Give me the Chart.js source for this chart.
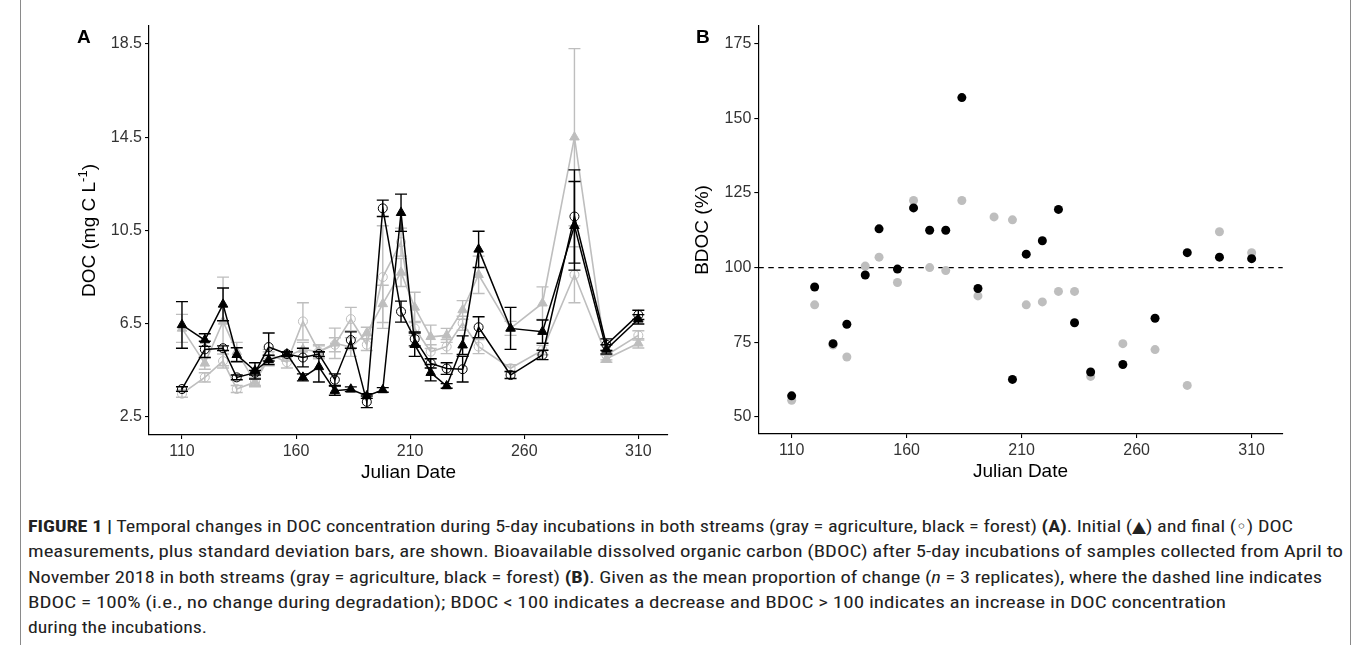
<!DOCTYPE html>
<html><head><meta charset="utf-8">
<script src="https://cdn.jsdelivr.net/npm/chart.js@4.4.0/dist/chart.umd.min.js"></script>
<style>
html,body{margin:0;padding:0;background:#fff;width:1358px;height:645px;overflow:hidden;position:relative;font-family:"Liberation Sans",Arial,sans-serif;}
canvas{position:absolute;top:0;}
#cA{left:0;}
#cB{left:680px;}
.lbl{position:absolute;font-weight:bold;font-size:19px;line-height:19px;color:#000;}
.frame{position:absolute;top:0;height:645px;width:1px;background:#8a8a8a;}
.ln{position:absolute;left:28px;white-space:nowrap;transform-origin:0 50%;height:20px;line-height:20px;font-size:16px;color:#222;font-family:"Liberation Sans Narrow","Roboto Condensed","DejaVu Sans Condensed","Liberation Sans",sans-serif;}
.ln b{font-weight:bold;}
</style></head>
<body>
<div class="frame" style="left:20px"></div>
<div class="frame" style="left:1350px"></div>
<canvas id="cA" width="700" height="500"></canvas>
<canvas id="cB" width="620" height="500"></canvas>
<div class="lbl" style="left:77px;top:27px">A</div>
<div class="lbl" style="left:696px;top:27px">B</div>
<div class="ln" data-w="1265" style="top:517px"><b>FIGURE 1 |</b> Temporal changes in DOC concentration during 5-day incubations in both streams (gray = agriculture, black = forest) <b>(A)</b>. Initial (▲) and final (◦) DOC</div>
<div class="ln" data-w="1315" style="top:542px">measurements, plus standard deviation bars, are shown. Bioavailable dissolved organic carbon (BDOC) after 5-day incubations of samples collected from April to</div>
<div class="ln" data-w="1294" style="top:568px">November 2018 in both streams (gray = agriculture, black = forest) <b>(B)</b>. Given as the mean proportion of change (<i>n</i> = 3 replicates), where the dashed line indicates</div>
<div class="ln" data-w="1198" style="top:593px">BDOC = 100% (i.e., no change during degradation); BDOC &lt; 100 indicates a decrease and BDOC &gt; 100 indicates an increase in DOC concentration</div>
<div class="ln" data-w="179" style="top:618px">during the incubations.</div>
<script>
// ---------- data ----------
const dates = [110,120,128,134,142,148,156,163,170,177,184,191,198,206,212,219,226,233,240,254,268,282,296,310];
const agrInit    = [6.3,4.8,6.6,5.3,4.0,5.0,5.1,5.4,5.3,5.66,5.5,6.1,7.35,8.7,7.2,5.94,6.0,7.09,8.6,6.3,7.38,14.5,5.0,5.66];
const agrInitSD  = [0.6,0.25,1.9,0.4,0.2,0.3,0.2,0.3,0.3,0.65,0.4,0.25,0.8,0.6,0.65,0.5,0.3,0.4,0.8,0.3,0.7,3.8,0.15,0.2];
const agrFinal   = [3.5,4.2,4.9,3.7,4.0,5.2,4.85,6.6,5.3,5.6,6.7,5.6,8.5,10.0,6.3,5.3,5.52,6.52,5.52,4.59,5.37,8.6,5.15,6.0];
const agrFinalSD = [0.15,0.2,0.3,0.15,0.15,0.2,0.25,0.8,0.25,0.3,0.5,0.25,2.2,0.6,0.3,0.3,0.3,0.3,0.3,0.15,0.2,1.2,0.2,0.2];
const forInit    = [6.45,5.8,7.33,5.17,4.48,4.95,5.2,4.2,4.65,3.63,3.69,3.4,3.66,11.26,5.6,4.4,3.83,5.58,9.69,6.3,6.16,10.7,5.4,6.69];
const forInitSD  = [1.0,0.27,0.7,0.3,0.35,0.2,0.1,0.15,0.65,0.2,0.1,0.1,0.1,0.8,0.5,0.35,0.1,0.4,0.78,0.9,0.5,1.9,0.2,0.2];
const forFinal   = [3.7,5.4,5.45,4.2,4.4,5.5,5.2,5.05,5.2,4.1,5.8,3.15,11.45,7.02,5.85,4.8,4.58,4.55,6.35,4.3,5.16,11.1,5.6,6.88];
const forFinalSD = [0.1,0.35,0.1,0.1,0.1,0.6,0.1,0.4,0.1,0.25,0.35,0.25,0.35,0.45,0.3,0.2,0.25,0.55,0.45,0.15,0.2,2.0,0.25,0.2];
const bdocAgr = [55.5,87.5,74,70,100.5,103.5,95,122.5,100,99,122.5,90.5,117,116,87.5,88.5,92,92,63.5,74.5,72.5,60.5,112,105];
const bdocFor = [57,93.5,74.5,81,97.5,113,99.5,120,112.5,112.5,157,93,null,62.5,104.5,109,119.5,81.5,65,67.5,83,105,103.5,103];
const docTicks  = [2.5,6.5,10.5,14.5,18.5];
const dateTicks = [110,160,210,260,310];
const bdocTicks = [50,75,100,125,150,175];
const bdocRef = 100;

const GRAY = '#bebebe', BLACK = '#000000';
const FONT = '"Liberation Sans", Arial, sans-serif';

function pts(ys){ return dates.map((d,i)=>({x:d,y:ys[i]})); }

const errorBars = {
  id:'errorBars',
  beforeDatasetDraw(chart, args){
    const ds = chart.data.datasets[args.index];
    if(!ds.sd) return;
    const xs = chart.scales.x, ys = chart.scales.y, ctx = chart.ctx;
    ctx.save();
    ctx.strokeStyle = ds.borderColor; ctx.lineWidth = 1.4;
    ds.data.forEach((p,i)=>{
      if(p.y==null) return;
      const s = ds.sd[i];
      const px = xs.getPixelForValue(p.x);
      const y1 = ys.getPixelForValue(p.y - s), y2 = ys.getPixelForValue(p.y + s);
      ctx.beginPath();
      ctx.moveTo(px, y1); ctx.lineTo(px, y2);
      ctx.moveTo(px-6, y1); ctx.lineTo(px+6, y1);
      ctx.moveTo(px-6, y2); ctx.lineTo(px+6, y2);
      ctx.stroke();
    });
    ctx.restore();
  }
};

const refLine = {
  id:'refLine',
  beforeDatasetsDraw(chart, args, opts){
    if(opts.value==null) return;
    const ys = chart.scales.y, a = chart.chartArea, ctx = chart.ctx;
    const y = ys.getPixelForValue(opts.value);
    ctx.save();
    ctx.strokeStyle = '#000'; ctx.lineWidth = 1.3; ctx.setLineDash([5.5,4.5]);
    ctx.beginPath(); ctx.moveTo(a.left, y); ctx.lineTo(a.right, y); ctx.stroke();
    ctx.restore();
  }
};

const axisTitles = {
  id:'axisTitles',
  afterDraw(chart, args, o){
    const ctx = chart.ctx, a = chart.chartArea;
    ctx.save();
    ctx.fillStyle = '#000';
    ctx.font = '19px ' + FONT;
    ctx.textAlign = 'center'; ctx.textBaseline = 'middle';
    ctx.fillText(o.xText, (a.left + a.right)/2, a.bottom + o.xOff);
    // y title, rotated, with optional superscript
    ctx.translate(a.left - o.yOff, (a.top + a.bottom)/2);
    ctx.rotate(-Math.PI/2);
    ctx.textAlign = 'left'; ctx.textBaseline = 'middle';
    const parts = o.yParts;
    let total = 0;
    parts.forEach(p=>{ ctx.font = (p.sup?'13px ':'19px ') + FONT; p.w = ctx.measureText(p.t).width; total += p.w; });
    let x = -total/2;
    parts.forEach(p=>{ ctx.font = (p.sup?'13px ':'19px ') + FONT; ctx.fillText(p.t, x, p.sup? -6.5 : 0); x += p.w; });
    ctx.restore();
  }
};

function axisCommon(min, max, tickArr, fmt, fitFn){
  return {
    type:'linear', min:min, max:max,
    afterBuildTicks: s => { s.ticks = tickArr.map(v=>({value:v})); },
    afterFit: fitFn,
    ticks:{ callback: fmt, font:{family:FONT, size:16}, color:'#333', padding:3, maxRotation:0, autoSkip:false },
    grid:{ display:true, drawOnChartArea:false, drawTicks:true, tickLength:4, color:'#000', lineWidth:1.1 },
    border:{ display:true, color:'#000', width:1.2 }
  };
}

Chart.defaults.font.family = FONT;

new Chart(document.getElementById('cA'), {
  type:'line',
  data:{ datasets:[
    { data:pts(forInit), sd:forInitSD, borderColor:BLACK, backgroundColor:BLACK, borderWidth:1.5, pointStyle:'triangle', pointRadius:5.5, pointBorderWidth:1, tension:0 },
    { data:pts(forFinal), sd:forFinalSD, borderColor:BLACK, backgroundColor:'rgba(0,0,0,0)', borderWidth:1.5, pointStyle:'circle', pointRadius:4.5, pointBorderWidth:1, tension:0 },
    { data:pts(agrInit), sd:agrInitSD, borderColor:GRAY, backgroundColor:GRAY, borderWidth:1.6, pointStyle:'triangle', pointRadius:5.5, pointBorderWidth:1, tension:0 },
    { data:pts(agrFinal), sd:agrFinalSD, borderColor:GRAY, backgroundColor:'rgba(0,0,0,0)', borderWidth:1.6, pointStyle:'circle', pointRadius:4.5, pointBorderWidth:1, tension:0 }
  ]},
  options:{
    responsive:false, animation:false, devicePixelRatio:1,
    layout:{ padding:{ top:26, right:32, left:0, bottom:0 } },
    plugins:{ legend:{display:false}, tooltip:{enabled:false},
      axisTitles:{ xText:'Julian Date', xOff:37.5, yOff:59, yParts:[{t:'DOC (mg C L'},{t:'-1',sup:true},{t:')'}] } },
    scales:{
      x: axisCommon(95.55, 323, dateTicks, v=>String(v), s=>{ s.height = 65; }),
      y: axisCommon(1.728, 19.27, docTicks, v=>v.toFixed(1), s=>{ s.width = 149; })
    }
  },
  plugins:[errorBars, axisTitles]
});

new Chart(document.getElementById('cB'), {
  type:'scatter',
  data:{ datasets:[
    { data:pts(bdocFor), backgroundColor:BLACK, borderWidth:0, pointRadius:4.5 },
    { data:pts(bdocAgr), backgroundColor:GRAY, borderWidth:0, pointRadius:4.5 }
  ]},
  options:{
    responsive:false, animation:false, devicePixelRatio:1,
    layout:{ padding:{ top:26, right:17.3, left:0, bottom:0 } },
    plugins:{ legend:{display:false}, tooltip:{enabled:false}, refLine:{ value:bdocRef },
      axisTitles:{ xText:'Julian Date', xOff:37.5, yOff:56, yParts:[{t:'BDOC (%)'}] } },
    scales:{
      x: axisCommon(95.5, 323.5, dateTicks, v=>String(v), s=>{ s.height = 66; }),
      y: axisCommon(44.2, 181, bdocTicks, v=>String(v), s=>{ s.width = 78.3; })
    }
  },
  plugins:[refLine, axisTitles]
});

// fit caption lines to the reference line lengths
document.querySelectorAll('.ln').forEach(el=>{
  const w = el.getBoundingClientRect().width;
  const target = +el.dataset.w;
  if(w>0) el.style.transform = 'scaleX(' + (target/w) + ')';
});
</script>
</body></html>
